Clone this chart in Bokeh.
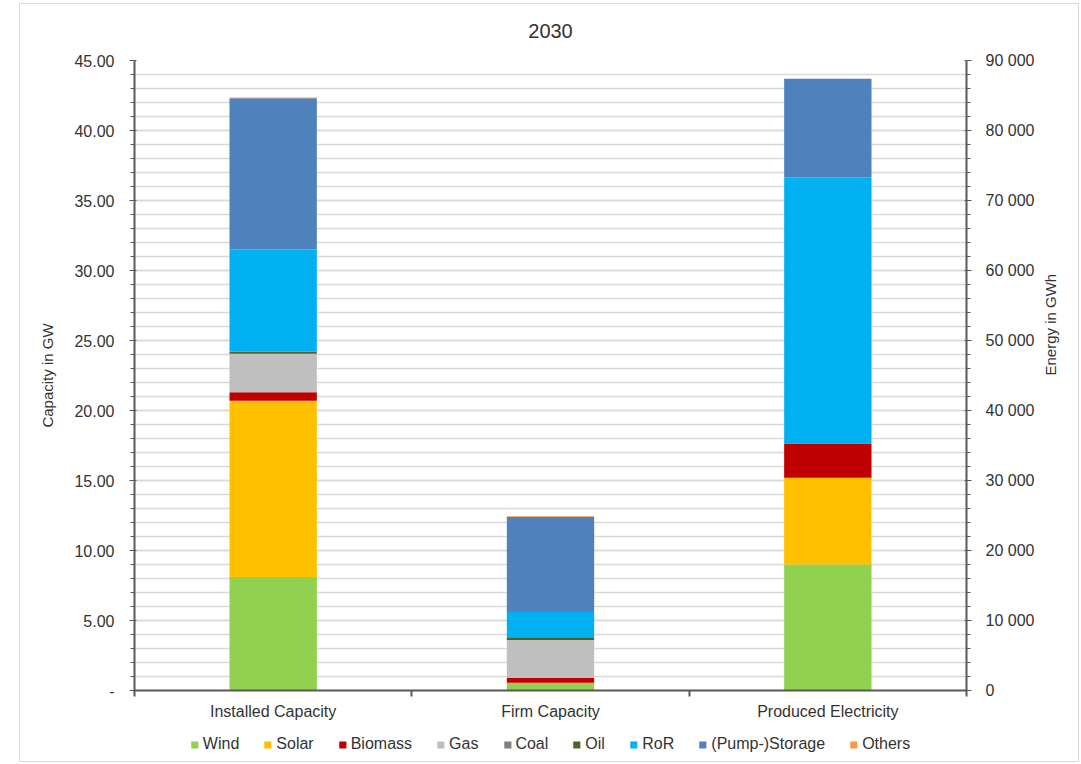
import math
from bokeh.plotting import figure
from bokeh.layouts import column
from bokeh.models import (ColumnDataSource, Range1d, LinearAxis, FixedTicker, Label,
                          SingleIntervalTicker, CustomJSTickFormatter, Legend, LegendItem)
from bokeh.embed import file_html
from bokeh.resources import INLINE

# ---------------- data ----------------
title = "2030"
categories = ["Installed Capacity", "Firm Capacity", "Produced Electricity"]
series = ["Wind", "Solar", "Biomass", "Gas", "Coal", "Oil", "RoR", "(Pump-)Storage", "Others"]
colors = ["#92D050", "#FFC000", "#C00000", "#BFBFBF", "#808080", "#4F6228",
          "#00B0F0", "#4F81BD", "#F79646"]

installed_gw = [8.1, 12.6, 0.6, 2.75, 0.0, 0.15, 7.3, 10.8, 0.05]
firm_gw = [0.55, 0.0, 0.35, 2.7, 0.0, 0.2, 1.8, 6.8, 0.05]
produced_gwh = [18000, 12400, 4900, 0, 0, 0, 38000, 14100, 0]

# ---------------- sources ----------------
xs = [i + 0.5 for i in range(len(categories))]
cap_data = {"x": xs[:2]}
en_data = {"x": xs[2:]}
for k, s in enumerate(series):
    cap_data[s] = [installed_gw[k], firm_gw[k]]
    en_data[s] = [produced_gwh[k]]
cap_src = ColumnDataSource(cap_data)
en_src = ColumnDataSource(en_data)

FONT = "Liberation Sans"
TXT = "#333333"
AX = "#595959"
FS = "16px"
W = 1058
FW, FH = 832, 630


def blank_fig(h):
    f = figure(width=W, height=h, x_range=Range1d(0, 1), y_range=Range1d(0, 1),
               x_axis_type=None, y_axis_type=None, output_backend="svg",
               toolbar_location=None, min_border=0)
    f.outline_line_color = None
    f.background_fill_color = "white"
    f.border_fill_color = "white"
    return f


# ---------------- title strip ----------------
tf = blank_fig(46)
tf.add_layout(Label(x=FW / 2, y=20, x_units="screen", y_units="screen", text=title,
                    text_align="center", text_baseline="middle", text_font=FONT,
                    text_font_size="20px", text_color=TXT))

# ---------------- main chart ----------------
p = figure(frame_width=FW, frame_height=FH, x_range=Range1d(0, 3), y_range=Range1d(0, 45),
           output_backend="svg", toolbar_location=None,
           min_border_left=114, min_border_right=112, min_border_top=10, min_border_bottom=37)
p.extra_y_ranges = {"energy": Range1d(0, 90000)}
p.outline_line_color = None
p.background_fill_color = "white"
p.border_fill_color = "white"

bw = 0.315
cap_r = p.vbar_stack(series, x="x", width=bw, color=colors, line_color=None, source=cap_src)
p.vbar_stack(series, x="x", width=bw, color=colors, line_color=None, source=en_src,
             y_range_name="energy")

left_ticker = SingleIntervalTicker(interval=5, num_minor_ticks=5)
ya = p.yaxis[0]
ya.ticker = left_ticker
ya.formatter = CustomJSTickFormatter(code="return tick == 0 ? '-' : tick.toFixed(2)")
ya.axis_label = "Capacity in GW"

ra = LinearAxis(y_range_name="energy",
                ticker=SingleIntervalTicker(interval=10000, num_minor_ticks=5),
                formatter=CustomJSTickFormatter(
                    code=r"return tick.toFixed(0).replace(/\B(?=(\d{3})+(?!\d))/g, ' ')"),
                axis_label="Energy in GWh")
p.add_layout(ra, "right")

for a in (ya, ra):
    a.axis_line_color = AX
    a.axis_line_width = 2
    a.major_tick_line_color = AX
    a.minor_tick_line_color = AX
    a.major_tick_out = 5
    a.major_tick_in = 2
    a.minor_tick_out = 4
    a.minor_tick_in = 0
    a.major_label_text_font = FONT
    a.major_label_text_font_size = FS
    a.major_label_text_color = TXT
    a.axis_label_text_font = FONT
    a.axis_label_text_font_size = "15px"
    a.axis_label_text_font_style = "normal"
    a.axis_label_text_color = TXT
ya.major_label_standoff = 15
ya.axis_label_standoff = 15
ra.major_label_standoff = 14
ra.axis_label_standoff = 13
ra.axis_label_orientation = math.pi / 2

xa = p.xaxis[0]
xa.ticker = FixedTicker(ticks=xs, minor_ticks=[0, 1, 2, 3])
xa.formatter = CustomJSTickFormatter(args=dict(labels=categories),
                                     code="return labels[Math.round(tick - 0.5)] || ''")
xa.axis_line_color = AX
xa.axis_line_width = 2
xa.major_tick_line_color = None
xa.major_tick_out = 0
xa.major_tick_in = 0
xa.minor_tick_line_color = AX
xa.minor_tick_line_width = 2
xa.minor_tick_out = 6
xa.minor_tick_in = 0
xa.major_label_standoff = 6
xa.major_label_text_font = FONT
xa.major_label_text_font_size = FS
xa.major_label_text_color = TXT

p.xgrid.grid_line_color = None
p.ygrid.ticker = left_ticker
p.ygrid.grid_line_color = "#D9D9D9"
p.ygrid.grid_line_width = 1.5
p.ygrid.minor_grid_line_color = "#D9D9D9"
p.ygrid.minor_grid_line_width = 1.5

# ---------------- legend strip ----------------
lf = blank_fig(34)
# zero-height swatch renderers (invisible), used only to give the legend its colours
swatches = [lf.vbar(x=[0.5], top=[0], bottom=[0], width=0.0, color=c, line_color=None)
            for c in colors]
legend = Legend(items=[LegendItem(label=s, renderers=[r]) for s, r in zip(series, swatches)],
                orientation="horizontal", location="center",
                glyph_width=9, glyph_height=9, label_standoff=4, spacing=24,
                label_height=16, padding=0, margin=0, border_line_color=None,
                background_fill_alpha=0,
                label_text_font=FONT, label_text_font_size="16px", label_text_color=TXT)
lf.add_layout(legend)

layout = column(tf, p, lf, spacing=0, margin=(3, 0, 0, 19),
                styles={"border": "1px solid #D9D9D9"})

open("out.html", "w").write(file_html(layout, INLINE))
